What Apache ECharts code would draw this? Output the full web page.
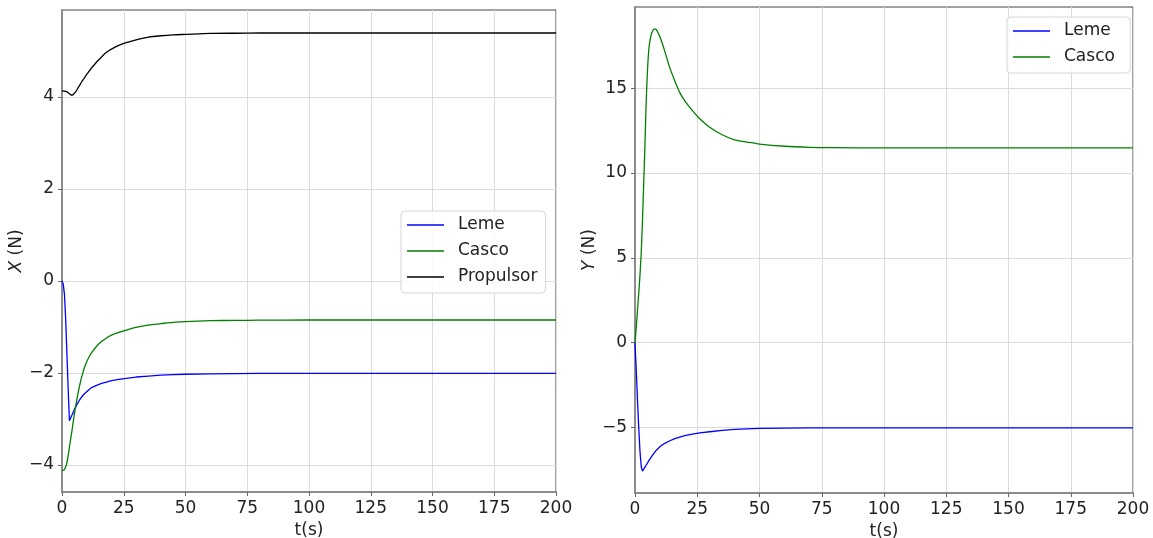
<!DOCTYPE html>
<html>
<head>
<meta charset="utf-8">
<script src="https://cdn.jsdelivr.net/npm/echarts@6/dist/echarts.min.js"></script>
<style>
  html, body { margin: 0; padding: 0; background: #fff; }
  #chart { width: 1153px; height: 538px; }
</style>
</head>
<body>
<div id="chart"></div>
<script>
// time samples (s)
const t = [0, 0.5, 1, 1.5, 2, 2.5, 3, 3.5, 4, 4.5, 5, 5.5, 6, 6.5, 7, 7.5, 8, 8.5,
  9, 10, 11, 12, 14, 16, 18, 20, 23, 26, 30, 35, 40, 45, 50, 60, 70, 80, 100, 125, 150, 175, 200]

// X force (N)
const xLeme = [0, -0.07, -0.3, -0.85, -1.6, -2.35, -3.04, -2.98, -2.92, -2.86, -2.8,
  -2.745, -2.69, -2.645, -2.6, -2.56, -2.52, -2.49, -2.46, -2.41, -2.36, -2.32,
  -2.27, -2.23, -2.2, -2.17, -2.14, -2.12, -2.09, -2.07, -2.05, -2.04, -2.03,
  -2.02, -2.015, -2.01, -2.01, -2.01, -2.01, -2.01, -2.01]
const xCasco = [-4.12, -4.12, -4.1, -4.04, -3.95, -3.8, -3.62, -3.44, -3.27, -3.08, -2.9,
  -2.74, -2.58, -2.44, -2.31, -2.19, -2.08, -1.99, -1.9, -1.76, -1.65, -1.56,
  -1.42, -1.32, -1.24, -1.18, -1.12, -1.07, -1.01, -0.96, -0.93, -0.9, -0.885,
  -0.865, -0.858, -0.855, -0.85, -0.85, -0.85, -0.85, -0.85]
const xPropulsor = [4.13, 4.13, 4.125, 4.12, 4.11, 4.09, 4.07, 4.05, 4.04, 4.05, 4.08,
  4.11, 4.15, 4.195, 4.24, 4.285, 4.33, 4.37, 4.41, 4.49, 4.56, 4.63,
  4.76, 4.87, 4.97, 5.04, 5.12, 5.18, 5.24, 5.3, 5.33, 5.35, 5.36,
  5.38, 5.385, 5.39, 5.39, 5.39, 5.39, 5.39, 5.39]

// Y force (N)
const yLeme = [0, -1.6, -3.4, -5.0, -6.4, -7.3, -7.57, -7.45, -7.33, -7.21, -7.09,
  -6.97, -6.86, -6.75, -6.65, -6.54, -6.44, -6.35, -6.27, -6.13, -6.02, -5.93,
  -5.78, -5.65, -5.56, -5.48, -5.39, -5.32, -5.25, -5.17, -5.11, -5.08, -5.05,
  -5.03, -5.02, -5.02, -5.02, -5.02, -5.02, -5.02, -5.02]
const yCasco = [0, 0.9, 1.9, 2.9, 4.0, 5.3, 7.2, 9.4, 11.7, 14.2, 16.0,
  17.2, 17.8, 18.15, 18.35, 18.47, 18.5, 18.46, 18.35, 18.04, 17.62, 17.16,
  16.2, 15.43, 14.74, 14.26, 13.7, 13.2, 12.7, 12.26, 11.96, 11.83, 11.71,
  11.58, 11.52, 11.5, 11.48, 11.48, 11.48, 11.48, 11.48]

// ticks
const tTicks = [0, 25, 50, 75, 100, 125, 150, 175, 200]
const xForceTicks = [-4, -2, 0, 2, 4]
const yForceTicks = [-5, 0, 5, 10, 15]

const font = 'DejaVu Sans'
const fontSize = 17
const minus = (v) => String(v).replace('-', '\u2212')
const pairs = (vals) => t.map((ti, i) => [ti, vals[i]])

const gridLine = { show: true, lineStyle: { color: '#dcdcdc', width: 1 } }
const spine = { show: true, onZero: false, lineStyle: { color: '#8c8c8c', width: 2 } }
const tick = { show: true, length: 4, lineStyle: { color: '#666', width: 1 } }
const labelStyle = { color: '#222', fontFamily: font, fontSize }

const timeAxis = (gridIndex) => ({
  type: 'value',
  gridIndex,
  min: 0,
  max: 200,
  interval: 25,
  name: 't(s)',
  nameLocation: 'middle',
  nameGap: 21,
  nameTextStyle: { ...labelStyle },
  axisLine: spine,
  axisTick: { ...tick, customValues: tTicks },
  axisLabel: { ...labelStyle, margin: 8, customValues: tTicks },
  splitLine: gridLine
})

const forceAxis = (gridIndex, min, max, ticks, letter, gap) => ({
  type: 'value',
  gridIndex,
  min,
  max,
  splitNumber: 5,
  name: '{i|' + letter + '} (N)',
  nameLocation: 'middle',
  nameGap: gap,
  nameTextStyle: {
    ...labelStyle,
    rich: { i: { fontFamily: font, fontSize, fontStyle: 'italic', color: '#222' } }
  },
  axisLine: spine,
  axisTick: { ...tick, customValues: ticks },
  axisLabel: { ...labelStyle, margin: 8, customValues: ticks, formatter: minus },
  splitLine: gridLine
})

// smooth only the curves without a sharp corner
const line = (name, color, data, idx, smooth) => ({
  name,
  type: 'line',
  xAxisIndex: idx,
  yAxisIndex: idx,
  data: pairs(data),
  symbol: 'none',
  smooth: smooth ? 0.25 : false,
  lineStyle: { color, width: 1.3 },
  itemStyle: { color }
})

const legendBase = {
  orient: 'vertical',
  icon: 'rect',
  itemWidth: 37,
  itemHeight: 1.5,
  itemGap: 6,
  backgroundColor: 'rgba(255,255,255,0.85)',
  borderColor: '#d6d6d6',
  borderWidth: 1,
  borderRadius: 4,
  textStyle: { ...labelStyle, lineHeight: 20, padding: [0, 0, 0, 9] }
}

const chart = echarts.init(document.getElementById('chart'))
chart.setOption({
  animation: false,
  backgroundColor: '#fff',
  grid: [
    { left: 62, top: 10, width: 494, height: 482, show: true, borderColor: '#444', borderWidth: 1, outerBoundsMode: 'none' },
    { left: 635, top: 7, width: 498, height: 486, show: true, borderColor: '#444', borderWidth: 1, outerBoundsMode: 'none' }
  ],
  xAxis: [timeAxis(0), timeAxis(1)],
  yAxis: [
    forceAxis(0, -4.59, 5.89, xForceTicks, 'X', 33),
    forceAxis(1, -8.86, 19.79, yForceTicks, 'Y', 35)
  ],
  legend: [
    { ...legendBase, left: 401, top: 211, padding: [4, 8, 6, 6], data: ['Leme', 'Casco', 'Propulsor'] },
    { ...legendBase, left: 1007, top: 17, padding: [4, 10, 6, 6], data: ['Leme ', 'Casco '] }
  ],
  series: [
    line('Leme', '#0000ff', xLeme, 0, false),
    line('Casco', '#008000', xCasco, 0, true),
    line('Propulsor', '#000000', xPropulsor, 0, true),
    line('Leme ', '#0000ff', yLeme, 1, false),
    line('Casco ', '#008000', yCasco, 1, true)
  ]
})
</script>
</body>
</html>
